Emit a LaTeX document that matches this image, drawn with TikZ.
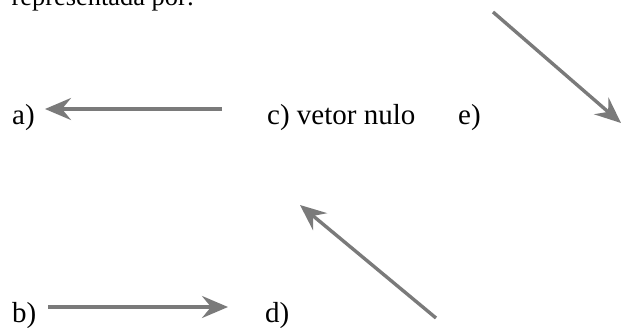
\documentclass[tikz,border=0pt]{standalone}
\usepackage{fontspec}
\setmainfont{Liberation Serif}
\usepackage{xcolor}
\usepackage{tikz}
\usetikzlibrary{arrows.meta}
\definecolor{vecgray}{RGB}{122,122,122}

\begin{document}
\begin{tikzpicture}[
  x=1pt, y=-1pt,
  lbl/.style={anchor=base west, inner sep=0pt, font=\fontsize{29}{33}\selectfont},
  vec/.style={-{Stealth[length=26pt, width=22pt, inset=9pt]}, line width=3.4pt, vecgray},
]
  \useasboundingbox (0,0) rectangle (623,327);

  \node[lbl, font=\fontsize{26.4}{30}\selectfont] (intro) at (11.5,5) {representada por:};

  \node[lbl] (optA) at (12,124) {a)};
  \node[lbl] (optC) at (267,124) {c) vetor nulo};
  \node[lbl] (optE) at (458,124) {e)};
  \node[lbl] (optB) at (12,322) {b)};
  \node[lbl] (optD) at (265,322) {d)};

  % vector ends
  \coordinate (aTail) at (222,109);
  \coordinate (aTip) at (45,109);
  \coordinate (bTail) at (48,307);
  \coordinate (bTip) at (228,307);
  \coordinate (dTail) at (436,318);
  \coordinate (dTip) at (300,205);
  \coordinate (eTail) at (493,12);
  \coordinate (eTip) at (621,123);

  \draw[vec] (aTail) -- (aTip);
  \draw[vec] (bTail) -- (bTip);
  \draw[vec] (dTail) -- (dTip);
  \draw[vec] (eTail) -- (eTip);
\end{tikzpicture}
\end{document}
